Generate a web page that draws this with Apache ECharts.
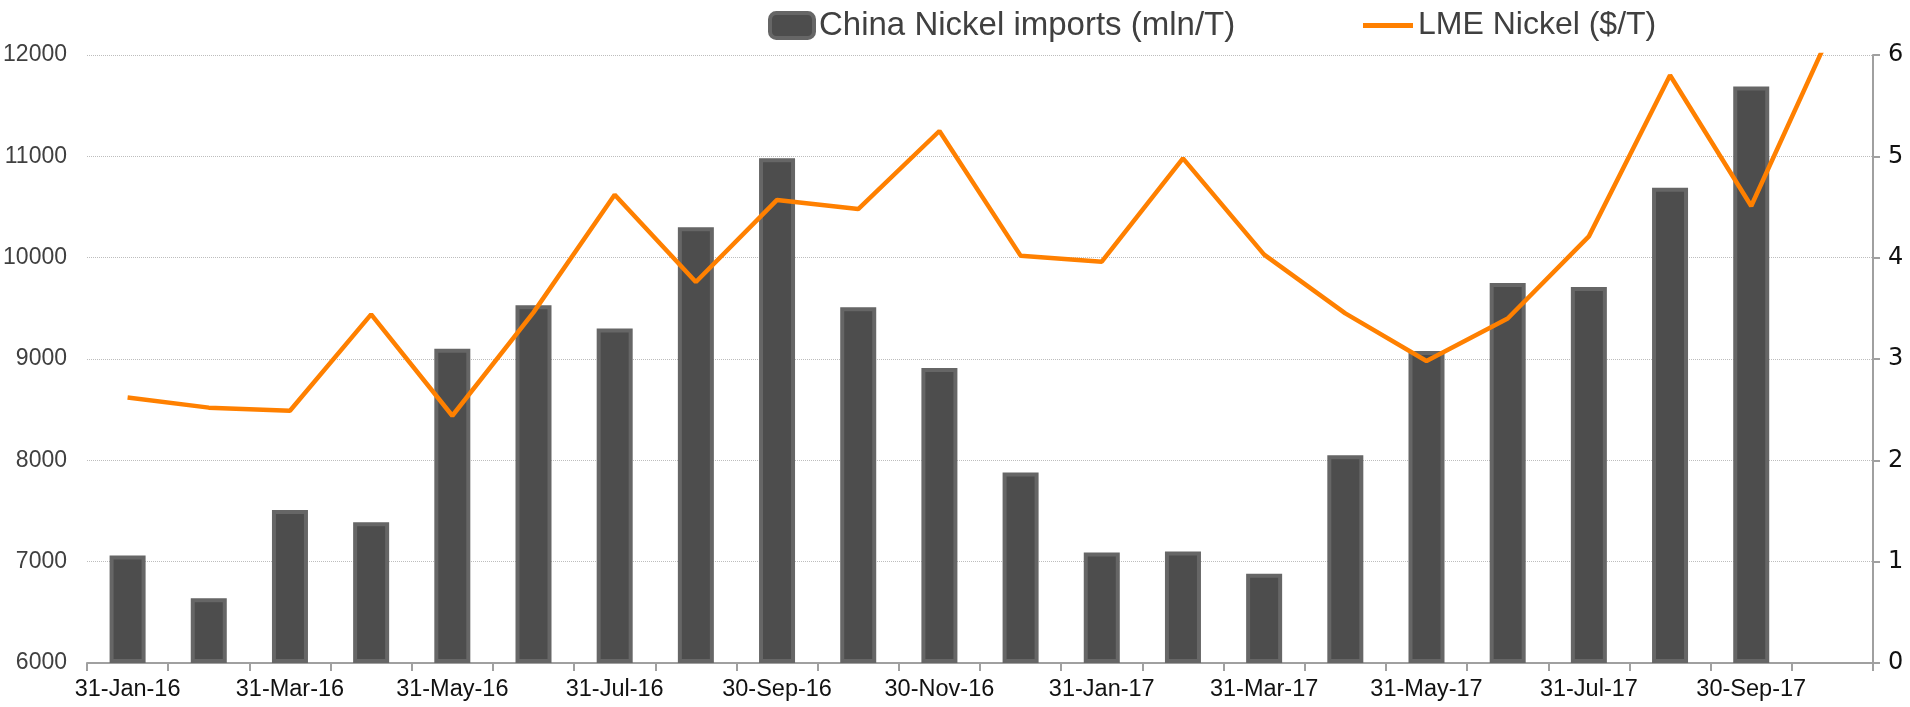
<!DOCTYPE html>
<html><head><meta charset="utf-8">
<script src="https://cdn.jsdelivr.net/npm/echarts@6/dist/echarts.min.js"></script>
<style>html,body{margin:0;padding:0;background:#fff}#c{width:1910px;height:707px}</style>
</head><body><div id="c"></div>
<script>
const categories = ['31-Jan-16','29-Feb-16','31-Mar-16','30-Apr-16','31-May-16','30-Jun-16','31-Jul-16','31-Aug-16','30-Sep-16','31-Oct-16','30-Nov-16','31-Dec-16','31-Jan-17','28-Feb-17','31-Mar-17','30-Apr-17','31-May-17','30-Jun-17','31-Jul-17','31-Aug-17','30-Sep-17','31-Oct-17'];
const importsValues = [1.06,0.64,1.51,1.39,3.10,3.53,3.30,4.30,4.98,3.51,2.91,1.88,1.09,1.10,0.88,2.05,3.08,3.75,3.71,4.69,5.69,null];
const lmeValues = [8620,8520,8490,9440,8440,9460,10620,9760,10570,10480,11250,10020,9960,10980,10030,9450,8980,9400,10210,11800,10510,12265];
const seriesNames = ['China Nickel imports (mln/T)','LME Nickel ($/T)'];

const FONT = 'Liberation Sans, Arial, sans-serif';
const chart = echarts.init(document.getElementById('c'));
chart.setOption({
  animation: false,
  backgroundColor: '#fff',
  textStyle: { fontFamily: FONT },
  legend: [
    {
      left: 763, top: 4, padding: 5,
      itemWidth: 44, itemHeight: 25,
      textStyle: { fontSize: 33, color: '#404040', fontFamily: FONT, lineHeight: 33 },
      data: [{ name: seriesNames[0], itemStyle: { color: '#4d4d4d', borderColor: '#666', borderWidth: 4 } }]
    },
    {
      left: 1358, top: 4, padding: 5,
      itemWidth: 50, itemHeight: 5, icon: 'rect',
      textStyle: { fontSize: 32, color: '#404040', fontFamily: FONT, lineHeight: 33 },
      data: [{ name: seriesNames[1], itemStyle: { color: '#ff8000' } }]
    }
  ],
  grid: { left: 87, right: 37, top: 55, bottom: 44, containLabel: false },
  xAxis: {
    type: 'category', data: categories, boundaryGap: true,
    axisLine: { lineStyle: { color: '#a0a0a0', width: 2 } },
    axisTick: { show: true, interval: 0, length: 8, lineStyle: { color: '#a0a0a0', width: 2 } },
    axisLabel: { interval: 1, margin: 15, fontSize: 23.5, color: '#111' }
  },
  yAxis: [
    {
      type: 'value', min: 6000, max: 12000, interval: 1000, position: 'left',
      axisLine: { show: false }, axisTick: { show: false },
      axisLabel: { margin: 20, fontSize: 23, color: '#404040', formatter: v => String(v) },
      splitLine: { show: true, lineStyle: { color: '#bdbdbd', type: 'dotted', width: 1 } }
    },
    {
      type: 'value', min: 0, max: 6, interval: 1, position: 'right',
      axisLine: { show: true, lineStyle: { color: '#a0a0a0', width: 2 } },
      axisTick: { show: true, length: 7, lineStyle: { color: '#a0a0a0', width: 2 } },
      axisLabel: { margin: 15, fontSize: 24, color: '#111', fontFamily: 'DejaVu Sans, Verdana, sans-serif' },
      splitLine: { show: false }
    }
  ],
  series: [
    {
      name: seriesNames[0], type: 'bar', yAxisIndex: 1, data: importsValues,
      barWidth: 36,
      itemStyle: { color: '#4d4d4d', borderColor: '#666', borderWidth: 4 }
    },
    {
      name: seriesNames[1], type: 'line', yAxisIndex: 0, data: lmeValues,
      symbol: 'none', showSymbol: false, clip: true,
      lineStyle: { color: '#ff8000', width: 4.5 },
      itemStyle: { color: '#ff8000' }
    }
  ]
});
</script></body></html>
